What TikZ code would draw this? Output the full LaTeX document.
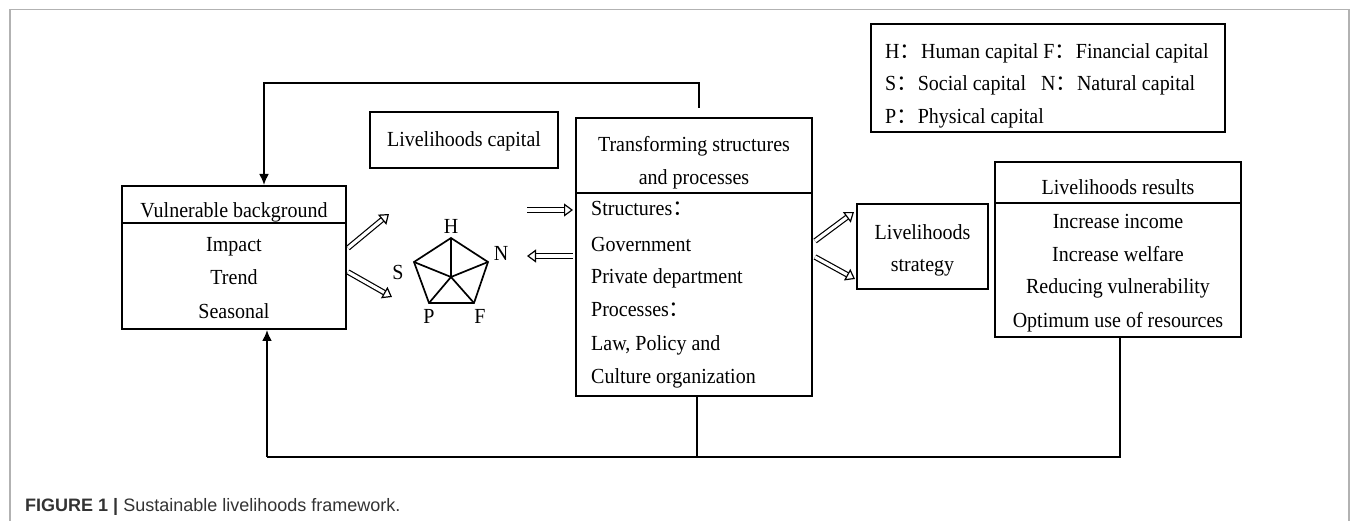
\documentclass[tikz,border=0pt]{standalone}
\usepackage{fontspec}
\setmainfont{Liberation Serif}[FakeStretch=0.93]
\newfontfamily\cjk{Noto Sans CJK SC}
\newfontfamily\capfont{Liberation Sans}
\usetikzlibrary{arrows.meta,calc}
\newcommand{\fwc}{{\cjk ：}}

\begin{document}
\begin{tikzpicture}[x=1pt,y=-1pt,
  box/.style={draw, line width=2pt, inner sep=0pt},
  lbl/.style={font=\fontsize{21.5}{25}\selectfont, inner sep=0pt, text height=14pt, text depth=0pt},
  link/.style={line width=2pt},
  tipped/.style={link, -{Latex[length=11pt,width=10pt]}},
  hollow/.style={double, double distance=3.2pt, line width=1.2pt,
    -{Triangle[open, length=9pt, width=13pt, line width=1.2pt]}},
  pent/.style={line width=1.7pt, line join=miter},
]
\useasboundingbox (0,0) rectangle (1355,521);

% outer frame, open at the bottom
\draw[gray!60, line width=1.5pt] (10,521) -- (10,9.5) -- (1349,9.5) -- (1349,521);

% boxes
\node[box, minimum width=224pt, minimum height=143pt] (vb) at (234,257.5) {};
\node[box, minimum width=188pt, minimum height=56pt]  (lc) at (464,140) {};
\node[box, minimum width=236pt, minimum height=278pt] (tr) at (694,257) {};
\node[box, minimum width=354pt, minimum height=108pt] (lg) at (1048,78) {};
\node[box, minimum width=131pt, minimum height=85pt]  (st) at (922.5,246.5) {};
\node[box, minimum width=246pt, minimum height=175pt] (rs) at (1118,249.5) {};

% header dividers
\draw[link] ($(vb.north west)+(0,38)$) -- ($(vb.north east)+(0,38)$);
\draw[link] ($(tr.north west)+(0,76)$) -- ($(tr.north east)+(0,76)$);
\draw[link] ($(rs.north west)+(0,42)$) -- ($(rs.north east)+(0,42)$);

% vulnerable background
\node[lbl] (vbh) at (234,211) {Vulnerable background};
\node[lbl] (vb1) at (234,245) {Impact};
\node[lbl] (vb2) at (234,278) {Trend};
\node[lbl] (vb3) at (234,312) {Seasonal};

% livelihoods capital
\node[lbl] (lct) at (464,140) {Livelihoods capital};

% transforming structures and processes
\node[lbl] (trh1) at (694,145) {Transforming structures};
\node[lbl] (trh2) at (694,178) {and processes};
\node[lbl, anchor=west] (tr1) at (591,209) {Structures\fwc};
\node[lbl, anchor=west] (tr2) at (591,245) {Government};
\node[lbl, anchor=west] (tr3) at (591,277) {Private department};
\node[lbl, anchor=west] (tr4) at (591,310) {Processes\fwc};
\node[lbl, anchor=west] (tr5) at (591,343) {Law, Policy and};
\node[lbl, anchor=west] (tr6) at (591,376) {Culture organization};

% legend
\node[lbl, anchor=west] (lg1) at (885,52) {H\fwc Human capital F\fwc Financial capital};
\node[lbl, anchor=west] (lg2) at (885,84) {S\fwc Social capital\hspace{10pt} N\fwc Natural capital};
\node[lbl, anchor=west] (lg3) at (885,117) {P\fwc Physical capital};

% livelihoods strategy
\node[lbl] (st1) at (922.5,233) {Livelihoods};
\node[lbl] (st2) at (922.5,265) {strategy};

% livelihoods results
\node[lbl] (rsh) at (1118,188) {Livelihoods results};
\node[lbl] (rs1) at (1118,222) {Increase income};
\node[lbl] (rs2) at (1118,255) {Increase welfare};
\node[lbl] (rs3) at (1118,287) {Reducing vulnerability};
\node[lbl] (rs4) at (1118,320) {Optimum use of resources};

% capital pentagon
\coordinate (pH) at (451,238);
\coordinate (pN) at (488,262);
\coordinate (pF) at (474,303);
\coordinate (pP) at (429,303);
\coordinate (pS) at (414,262);
\coordinate (pC) at (451,277);
\draw[pent] (pH) -- (pN) -- (pF) -- (pP) -- (pS) -- cycle;
\foreach \v in {pH,pN,pF,pP,pS} \draw[pent] (pC) -- (\v);
\node[lbl] (lH) at (451,227) {H};
\node[lbl] (lN) at (501,254) {N};
\node[lbl] (lS) at (398,273) {S};
\node[lbl] (lP) at (429,317) {P};
\node[lbl] (lF) at (480,317) {F};

% hollow flow arrows
\coordinate (a1s) at (348,248); \coordinate (a1e) at (389,214);
\coordinate (a2s) at (348,272); \coordinate (a2e) at (392,297);
\coordinate (a3s) at (527,210); \coordinate (a3e) at (573,210);
\coordinate (a4s) at (573,256); \coordinate (a4e) at (527,256);
\coordinate (a5s) at (815,241); \coordinate (a5e) at (854,212);
\coordinate (a6s) at (815,257); \coordinate (a6e) at (855,279);
\draw[hollow] (a1s) -- (a1e);
\draw[hollow] (a2s) -- (a2e);
\draw[hollow] (a3s) -- (a3e);
\draw[hollow] (a4s) -- (a4e);
\draw[hollow] (a5s) -- (a5e);
\draw[hollow] (a6s) -- (a6e);

% feedback loop over the top
\coordinate (fb) at (699,108);
\coordinate (fbtop) at (699,83);
\draw[tipped] (fb) -- (fbtop) -| ([xshift=30pt]vb.north);

% feedback loop along the bottom
\coordinate (busL) at (267,457);
\coordinate (busM) at (697,457);
\coordinate (busR) at (1120,457);
\draw[link] (rs.south -| busR) -- (busR) -- (busL);
\draw[link] (tr.south -| busM) -- (busM);
\draw[tipped] (busL) -- (vb.south -| busL);

% caption
\node[anchor=west, inner sep=0pt, text height=13pt, text depth=0pt,
      font=\capfont\fontsize{18}{22}\selectfont, text=black!80] (cap) at (25,505)
  {\textbf{FIGURE 1} \textbf{|} Sustainable livelihoods framework.};
\end{tikzpicture}
\end{document}
